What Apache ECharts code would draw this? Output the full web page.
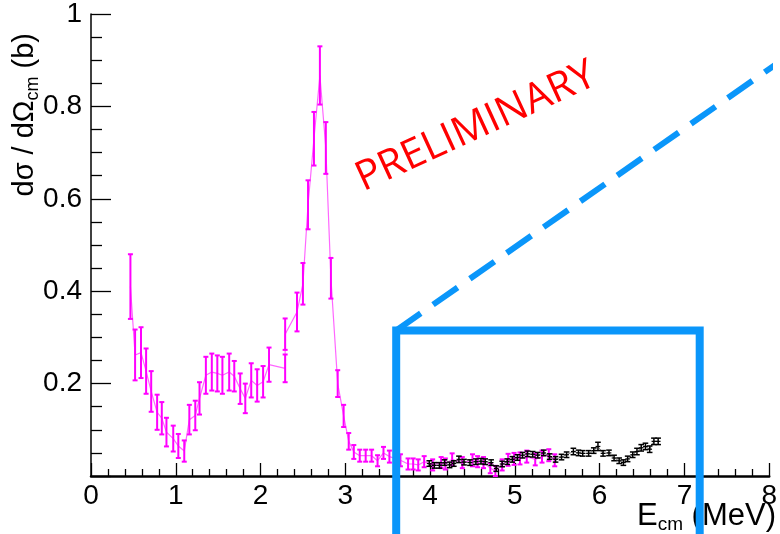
<!DOCTYPE html>
<html>
<head>
<meta charset="utf-8">
<script src="https://cdn.jsdelivr.net/npm/echarts@6/dist/echarts.min.js"></script>
<style>
  html, body { margin: 0; padding: 0; background: #ffffff; }
  #chart { width: 780px; height: 534px; }
</style>
</head>
<body>
<div id="chart"></div>
<script>
// Centre-of-mass energy (MeV), cross section (b) and its uncertainty — first data set
const setAEnergy = [0.465, 0.52, 0.59, 0.65, 0.71, 0.78, 0.835, 0.89, 0.97, 1.03, 1.10,
  1.16, 1.23, 1.28, 1.355, 1.425, 1.49, 1.55, 1.63, 1.69, 1.76, 1.82, 1.89, 1.96, 2.03, 2.10,
  2.29, 2.29, 2.43, 2.50, 2.56, 2.63, 2.70, 2.77, 2.83, 2.91, 2.98, 3.04, 3.10, 3.17, 3.24,
  3.31, 3.38, 3.45, 3.52, 3.65, 3.74, 3.80, 3.86, 3.93, 4.03, 4.13, 4.18, 4.26, 4.38, 4.50,
  4.56, 4.63, 4.71, 4.77, 4.85, 4.92, 4.99, 5.06, 5.14, 5.24, 5.32, 5.40, 5.47];
const setAXs = [0.41, 0.262, 0.267, 0.227, 0.183, 0.138, 0.125, 0.095, 0.081, 0.065, 0.054,
  0.122, 0.131, 0.168, 0.218, 0.225, 0.222, 0.218, 0.225, 0.216, 0.189, 0.168, 0.207, 0.196, 0.204, 0.241,
  0.233, 0.307, 0.355, 0.416, 0.587, 0.73, 0.867, 0.71, 0.428, 0.20, 0.13, 0.075, 0.052, 0.044, 0.044,
  0.044, 0.033, 0.05, 0.042, 0.034, 0.026, 0.026, 0.024, 0.031, 0.024, 0.029, 0.026, 0.036, 0.029, 0.034,
  0.031, 0.029, 0.017, 0.011, 0.024, 0.035, 0.037, 0.038, 0.042, 0.036, 0.042, 0.045, 0.034];
const setAErr = [0.07, 0.055, 0.055, 0.049, 0.044, 0.038, 0.035, 0.031, 0.028, 0.026, 0.023,
  0.032, 0.032, 0.035, 0.04, 0.04, 0.039, 0.04, 0.04, 0.033, 0.033, 0.032, 0.037, 0.035, 0.034, 0.037,
  0.03, 0.034, 0.042, 0.045, 0.053, 0.058, 0.063, 0.056, 0.044, 0.029, 0.024, 0.018, 0.015, 0.013, 0.013,
  0.013, 0.012, 0.013, 0.013, 0.013, 0.012, 0.012, 0.012, 0.012, 0.012, 0.012, 0.012, 0.013, 0.012, 0.013,
  0.012, 0.012, 0.011, 0.011, 0.012, 0.013, 0.013, 0.013, 0.013, 0.013, 0.013, 0.013, 0.013];

// Second data set
const setBEnergy = [3.99, 4.05, 4.11, 4.17, 4.23, 4.28, 4.34, 4.40, 4.47, 4.54, 4.60, 4.65,
  4.72, 4.78, 4.85, 4.91, 4.97, 5.03, 5.09, 5.15, 5.21, 5.27, 5.34, 5.41, 5.48, 5.55, 5.61,
  5.69, 5.75, 5.80, 5.87, 5.93, 5.98, 6.04, 6.11, 6.17, 6.23, 6.28, 6.33, 6.39, 6.44, 6.49,
  6.54, 6.59, 6.64, 6.69];
const setBXs = [0.027, 0.023, 0.023, 0.029, 0.024, 0.027, 0.036, 0.030, 0.029, 0.031, 0.032, 0.031,
  0.029, 0.016, 0.026, 0.031, 0.036, 0.040, 0.045, 0.048, 0.047, 0.045, 0.050, 0.042, 0.036, 0.041, 0.046,
  0.053, 0.050, 0.049, 0.049, 0.055, 0.064, 0.049, 0.050, 0.039, 0.033, 0.029, 0.037, 0.046, 0.053, 0.061,
  0.064, 0.058, 0.075, 0.075];
const setBErr = [0.006, 0.006, 0.006, 0.006, 0.006, 0.006, 0.007, 0.006, 0.006, 0.006, 0.006, 0.006,
  0.006, 0.006, 0.006, 0.006, 0.006, 0.006, 0.006, 0.006, 0.006, 0.006, 0.006, 0.006, 0.006, 0.006, 0.006,
  0.007, 0.006, 0.006, 0.006, 0.006, 0.009, 0.006, 0.006, 0.006, 0.006, 0.006, 0.006, 0.006, 0.007, 0.007,
  0.007, 0.007, 0.007, 0.007];
const setBBinHalf = 0.028;

// Axis ticks
const xTickStep = 1;
const yTickStep = 0.2;

// Highlighted region (energy / cross-section units)
const boxLeftE = 3.6;
const boxRightE = 7.18;
const boxTopXs = 0.315;
const boxFloorXs = -0.14;
const trendEnd = [8.07, 0.89];

const colorA = '#ff00ff';
const colorB = '#000000';
const blue = '#0a96fa';

function errorBars(color, capHalf, lineW, xHalf) {
  return function (params, api) {
    const x = api.value(0), y = api.value(1), e = api.value(2);
    const top = api.coord([x, y + e]);
    const bot = api.coord([x, y - e]);
    const st = { stroke: color, lineWidth: lineW };
    const kids = [
      { type: 'line', shape: { x1: top[0], y1: top[1], x2: bot[0], y2: bot[1] }, style: st },
      { type: 'line', shape: { x1: top[0] - capHalf, y1: top[1], x2: top[0] + capHalf, y2: top[1] }, style: st },
      { type: 'line', shape: { x1: bot[0] - capHalf, y1: bot[1], x2: bot[0] + capHalf, y2: bot[1] }, style: st }
    ];
    if (xHalf) {
      const l = api.coord([x - xHalf, y]);
      const r = api.coord([x + xHalf, y]);
      kids.push({ type: 'line', shape: { x1: l[0], y1: l[1], x2: r[0], y2: r[1] }, style: { stroke: color, lineWidth: 1.2 } });
    }
    return { type: 'group', children: kids };
  };
}

const dataA = setAEnergy.map((e, i) => [e, setAXs[i], setAErr[i]]);
const dataB = setBEnergy.map((e, i) => [e, setBXs[i], setBErr[i]]);

const chart = echarts.init(document.getElementById('chart'), null, { renderer: 'canvas' });

const axisFont = { fontFamily: 'Liberation Sans', fontSize: 28, color: '#000' };

chart.setOption({
  backgroundColor: '#ffffff',
  animation: false,
  grid: { left: 91, top: 12, right: 6, bottom: 58, containLabel: false },
  xAxis: {
    type: 'value', min: 0, max: 8, interval: xTickStep,
    axisLine: { show: true, onZero: false, lineStyle: { color: '#000', width: 2.5 } },
    axisTick: { show: true, inside: true, length: 13, lineStyle: { color: '#000', width: 1.3 } },
    minorTick: { show: true, splitNumber: 5, length: 7, lineStyle: { color: '#000', width: 1.3 } },
    splitLine: { show: false },
    axisLabel: Object.assign({ margin: 6 }, axisFont)
  },
  yAxis: {
    type: 'value', min: 0, max: 1, interval: yTickStep,
    axisLine: { show: true, onZero: false, lineStyle: { color: '#000', width: 1.5 } },
    axisTick: { show: true, inside: true, length: 20, lineStyle: { color: '#000', width: 1.3 } },
    minorTick: { show: true, splitNumber: 4, length: 11, lineStyle: { color: '#000', width: 1.3 } },
    splitLine: { show: false },
    axisLabel: Object.assign({
      margin: 9,
      formatter: function (v) { return v === 0 ? '' : String(Math.round(v * 10) / 10); }
    }, axisFont)
  },
  series: [
    {
      type: 'line', data: setAEnergy.map((e, i) => [e, setAXs[i]]),
      showSymbol: false, symbol: 'none',
      lineStyle: { color: 'rgba(255,0,255,0.6)', width: 1.2 }, z: 2
    },
    {
      type: 'custom', renderItem: errorBars(colorA, 2.5, 2, 0),
      data: dataA, encode: { x: 0, y: 1 }, z: 3
    },
    {
      type: 'line', data: setBEnergy.map((e, i) => [e, setBXs[i]]),
      showSymbol: false, symbol: 'none',
      lineStyle: { color: 'rgba(0,0,0,0.5)', width: 1 }, z: 4
    },
    {
      type: 'custom', renderItem: errorBars(colorB, 2.8, 1.5, setBBinHalf),
      data: dataB, encode: { x: 0, y: 1 }, z: 5
    },
    {
      type: 'line', clip: false, silent: true, showSymbol: false, symbol: 'none',
      data: [[boxLeftE, boxFloorXs], [boxLeftE, boxTopXs], [boxRightE, boxTopXs], [boxRightE, boxFloorXs]],
      lineStyle: { color: blue, width: 8, join: 'miter', cap: 'butt' }, z: 10
    },
    {
      type: 'line', clip: false, silent: true, showSymbol: false, symbol: 'none',
      data: [[boxLeftE, boxTopXs], trendEnd],
      lineStyle: { color: blue, width: 6, type: [30, 15], cap: 'butt' }, z: 10
    }
  ],
  graphic: [
    {
      type: 'text', x: 25, y: 33, rotation: Math.PI / 2,
      style: {
        text: '{t|dσ / dΩ}{s|cm}{t| (b)}',
        align: 'right', verticalAlign: 'middle',
        rich: {
          t: { fontFamily: 'Liberation Sans', fontSize: 29, lineHeight: 34, fill: '#000' },
          s: { fontFamily: 'Liberation Sans', fontSize: 18, lineHeight: 16, verticalAlign: 'bottom', fill: '#000' }
        }
      }
    },
    {
      type: 'text', x: 776, y: 516,
      style: {
        text: '{t|E}{s|cm}{t| (MeV)}',
        align: 'right', verticalAlign: 'middle',
        rich: {
          t: { fontFamily: 'Liberation Sans', fontSize: 31, lineHeight: 36, fill: '#000' },
          s: { fontFamily: 'Liberation Sans', fontSize: 19, lineHeight: 17, verticalAlign: 'bottom', fill: '#000' }
        }
      }
    },
    {
      type: 'text', x: 476, y: 127, rotation: 0.43,
      style: {
        text: 'PRELIMINARY', fontFamily: 'Open Sans', fontSize: 41,
        fill: '#ff0000', align: 'center', verticalAlign: 'middle'
      }
    }
  ]
});
</script>
</body>
</html>
